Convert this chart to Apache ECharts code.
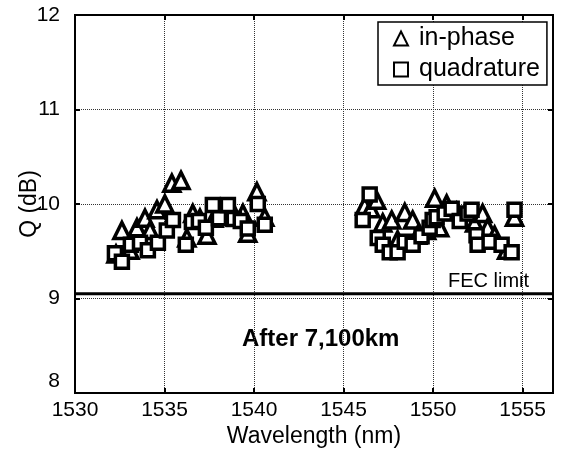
<!DOCTYPE html>
<html><head><meta charset="utf-8">
<script src="https://cdn.jsdelivr.net/npm/echarts@6/dist/echarts.min.js"></script>
<style>html,body{margin:0;padding:0;background:#fff}#c{width:561px;height:453px}</style>
</head><body><div id="c"></div>
<script>
const xTicks = [1530, 1535, 1540, 1545, 1550, 1555];
const yTicks = [8, 9, 10, 11, 12];
const inPhaseWl = [1532.29,1532.62,1533.07,1533.46,1533.91,1534.19,1534.58,1535.02,1535.41,1535.92,1536.25,1536.58,1536.98,1537.37,1537.76,1538.2,1538.65,1538.98,1539.38,1539.65,1540.16,1540.6,
  1546.18,1546.52,1546.85,1547.19,1547.69,1548.02,1548.42,1548.86,1549.14,1549.64,1550.09,1550.37,1550.76,1551.32,1551.77,1552.32,1552.77,1553.05,1553.44,1554.11,1554.55];
const inPhaseQ = [9.47,9.72,9.51,9.75,9.85,9.72,9.94,10.0,10.22,10.25,9.64,9.9,9.85,9.67,9.85,9.88,9.9,9.86,9.9,9.69,10.13,9.86,
  9.98,9.95,10.04,9.8,9.83,9.62,9.91,9.83,9.67,9.72,10.06,9.75,10.0,9.92,9.85,9.8,9.9,9.75,9.67,9.51,9.86];
const quadWl = [1532.23,1532.62,1533.12,1533.63,1534.07,1534.63,1535.13,1535.47,1536.19,1536.53,1536.92,1537.31,1537.7,1538.04,1538.54,1538.87,1539.26,1539.65,1540.21,1540.6,
  1546.07,1546.46,1546.91,1547.19,1547.58,1548.02,1548.42,1548.86,1549.36,1549.81,1549.98,1550.2,1550.65,1551.04,1551.49,1551.93,1552.15,1552.43,1552.49,1553.16,1553.83,1554.39,1554.55];
const quadQ = [9.48,9.39,9.57,9.59,9.51,9.59,9.72,9.83,9.57,9.81,9.82,9.75,9.99,9.85,9.99,9.84,9.82,9.74,10.0,9.78,
  9.83,10.1,9.64,9.57,9.49,9.49,9.6,9.57,9.66,9.75,9.83,9.86,9.9,9.95,9.82,9.9,9.94,9.67,9.57,9.6,9.57,9.49,9.94];
const fecLimit = 9.05;
const fecLabelX = 1553.1;
const xMin = 1530, xMax = 1556.7, yMin = 8, yMax = 12;

const FONT = 'Liberation Sans, Arial, sans-serif';
const chart = echarts.init(document.getElementById('c'), null, {renderer: 'canvas'});
const pairs = (a, b) => a.map((v, i) => [v, b[i]]);
const tickFmt = (list) => (v) => list.includes(Math.round(v * 100) / 100) ? String(v) : '';
const mk = () => ({color: '#fff', borderColor: '#000', borderWidth: 3.5, opacity: 1});
chart.setOption({
  animation: false,
  textStyle: {fontFamily: FONT},
  grid: {left: 75, top: 15, right: 8, bottom: 60, outerBoundsMode: 'none', containLabel: false,
    show: true, borderColor: '#000', borderWidth: 2, backgroundColor: 'transparent'},
  legend: {
    orient: 'vertical', left: 378, top: 22,
    backgroundColor: '#fff', borderColor: '#000', borderWidth: 1.5,
    padding: [4, 7, 3, 15], itemGap: 6, itemWidth: 14, itemHeight: 14,
    textStyle: {fontSize: 25, color: '#000', fontFamily: FONT, padding: [0, 0, 0, 6]},
    data: [{name: 'in-phase', icon: 'triangle'}, {name: 'quadrature', icon: 'rect'}]
  },
  xAxis: [{
    type: 'value', min: xMin, max: xMax, interval: 5,
    name: 'Wavelength (nm)', nameLocation: 'middle', nameGap: 32, nameMoveOverlap: false,
    nameTextStyle: {fontSize: 23, color: '#000', fontFamily: FONT},
    axisLine: {lineStyle: {color: '#000', width: 2}},
    axisTick: {inside: true, length: 5, lineStyle: {color: '#000', width: 2}},
    axisLabel: {fontSize: 21, color: '#000', margin: 7, showMaxLabel: false, formatter: tickFmt(xTicks)},
    splitLine: {show: true, lineStyle: {color: '#333', type: 'dotted', width: 1}}
  }, {
    type: 'value', position: 'top', min: xMin, max: xMax, interval: 5,
    axisLine: {lineStyle: {color: '#000', width: 2}},
    axisTick: {inside: true, length: 5, lineStyle: {color: '#000', width: 2}},
    axisLabel: {show: false}, splitLine: {show: false}
  }],
  yAxis: [{
    type: 'value', min: yMin, max: yMax, interval: 1,
    name: 'Q (dB)', nameLocation: 'middle', nameGap: 34, nameRotate: 90, nameMoveOverlap: false,
    nameTextStyle: {fontSize: 23, color: '#000', fontFamily: FONT},
    axisLine: {lineStyle: {color: '#000', width: 2}},
    axisTick: {inside: true, length: 5, lineStyle: {color: '#000', width: 2}},
    axisLabel: {fontSize: 21, color: '#000', margin: 15,
      formatter: (v) => v === yMin ? '{lo|' + v + '}' : tickFmt(yTicks)(v),
      rich: {lo: {fontSize: 21, color: '#000', fontFamily: FONT, padding: [0, 0, 24, 0]}}},
    splitLine: {show: true, lineStyle: {color: '#333', type: 'dotted', width: 1}}
  }, {
    type: 'value', position: 'right', min: yMin, max: yMax, interval: 1,
    axisLine: {lineStyle: {color: '#000', width: 2}},
    axisTick: {inside: true, length: 5, lineStyle: {color: '#000', width: 2}},
    axisLabel: {show: false}, splitLine: {show: false}
  }],
  series: [{
    name: 'FEC', type: 'line', symbol: 'none', silent: true, z: 2,
    lineStyle: {color: '#000', width: 3},
    data: [[xMin, fecLimit], [xMax, fecLimit]]
  }, {
    name: 'FEC label', type: 'scatter', silent: true, z: 4, symbolSize: 1,
    itemStyle: {color: 'transparent', opacity: 1},
    label: {show: true, formatter: 'FEC limit', position: 'top', distance: 2, fontSize: 20, color: '#000', opacity: 1, fontFamily: FONT},
    data: [[fecLabelX, fecLimit]]
  }, {
    name: 'in-phase', type: 'scatter', symbol: 'triangle', symbolSize: 16,
    itemStyle: mk(), data: pairs(inPhaseWl, inPhaseQ), z: 3
  }, {
    name: 'quadrature', type: 'scatter', symbol: 'rect', symbolSize: 13,
    itemStyle: mk(), data: pairs(quadWl, quadQ), z: 3
  }],
  graphic: [{
    type: 'text', left: 242, top: 327,
    style: {text: 'After 7,100km', font: 'bold 24px ' + FONT, fill: '#000'}
  }]
});
</script></body></html>
